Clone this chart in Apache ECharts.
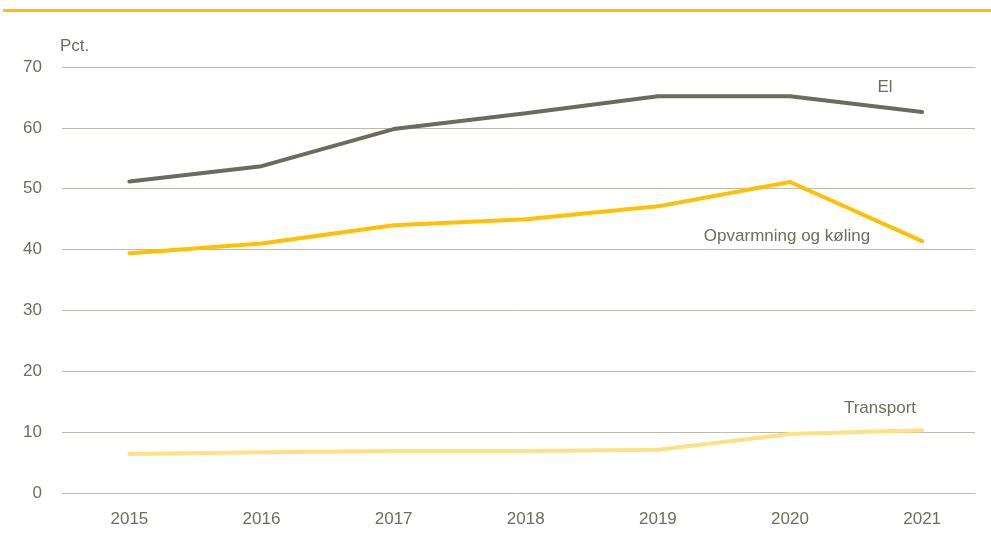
<!DOCTYPE html>
<html><head><meta charset="utf-8">
<script src="https://cdn.jsdelivr.net/npm/echarts@6/dist/echarts.min.js"></script>
<style>html,body{margin:0;padding:0;background:#fff}#c{width:991px;height:537px}</style>
</head><body><div id="c"></div>
<script>
const years = [2015, 2016, 2017, 2018, 2019, 2020, 2021];
const el = [51.2, 53.7, 59.8, 62.4, 65.2, 65.2, 62.6];
const opvarmning = [39.4, 41.0, 44.0, 45.0, 47.1, 51.1, 41.4];
const transport = [6.4, 6.7, 6.9, 6.9, 7.1, 9.7, 10.3];
const yTicks = [0, 10, 20, 30, 40, 50, 60, 70];
const seriesNames = ['El', 'Opvarmning og køling', 'Transport'];

const txt = '#6f6d5e';
const font = '"Liberation Sans Narrow", "Liberation Sans", Arial, sans-serif';
const chart = echarts.init(document.getElementById('c'), null, {renderer: 'canvas'});
const pts = arr => years.map((y, i) => [y, arr[i]]);
chart.setOption({
  animation: false,
  grid: {left: 62, right: 16, top: 67, bottom: 44},
  xAxis: {
    type: 'value', min: 2014.49, max: 2021.4,
    axisLine: {show: false}, axisTick: {show: false}, splitLine: {show: false},
    axisLabel: {customValues: years, formatter: v => String(v), color: txt, fontSize: 17, fontFamily: font, margin: 18}
  },
  yAxis: {
    type: 'value', min: 0, max: 70, interval: 10,
    name: 'Pct.', nameGap: 12, nameTextStyle: {color: txt, fontSize: 17, fontFamily: font, align: 'left', padding: [0, 0, 0, -2]},
    axisLine: {show: false}, axisTick: {show: false},
    axisLabel: {customValues: yTicks, formatter: v => String(v), color: txt, fontSize: 17, fontFamily: font, margin: 20},
    splitLine: {lineStyle: {color: '#bdbbb0', width: 1}}
  },
  series: [
    {name: seriesNames[0], type: 'line', data: pts(el), symbol: 'none', lineStyle: {color: '#6d6b5b', width: 4, cap: 'round'}},
    {name: seriesNames[1], type: 'line', data: pts(opvarmning), symbol: 'none', lineStyle: {color: '#FFC000', width: 4, cap: 'round'}},
    {name: seriesNames[2], type: 'line', data: pts(transport), symbol: 'none', lineStyle: {color: '#FFE084', width: 4, cap: 'round'}}
  ],
  graphic: [
    {type: 'rect', shape: {x: 3, y: 9, width: 988, height: 3}, style: {fill: '#FFC000'}},
    {type: 'text', x: 885, y: 87, style: {text: seriesNames[0], fill: txt, font: '17px ' + font, align: 'center', verticalAlign: 'middle'}},
    {type: 'text', x: 787, y: 236, style: {text: seriesNames[1], fill: txt, font: '17px ' + font, align: 'center', verticalAlign: 'middle'}},
    {type: 'text', x: 880, y: 408, style: {text: seriesNames[2], fill: txt, font: '17px ' + font, align: 'center', verticalAlign: 'middle'}}
  ]
});
</script></body></html>
